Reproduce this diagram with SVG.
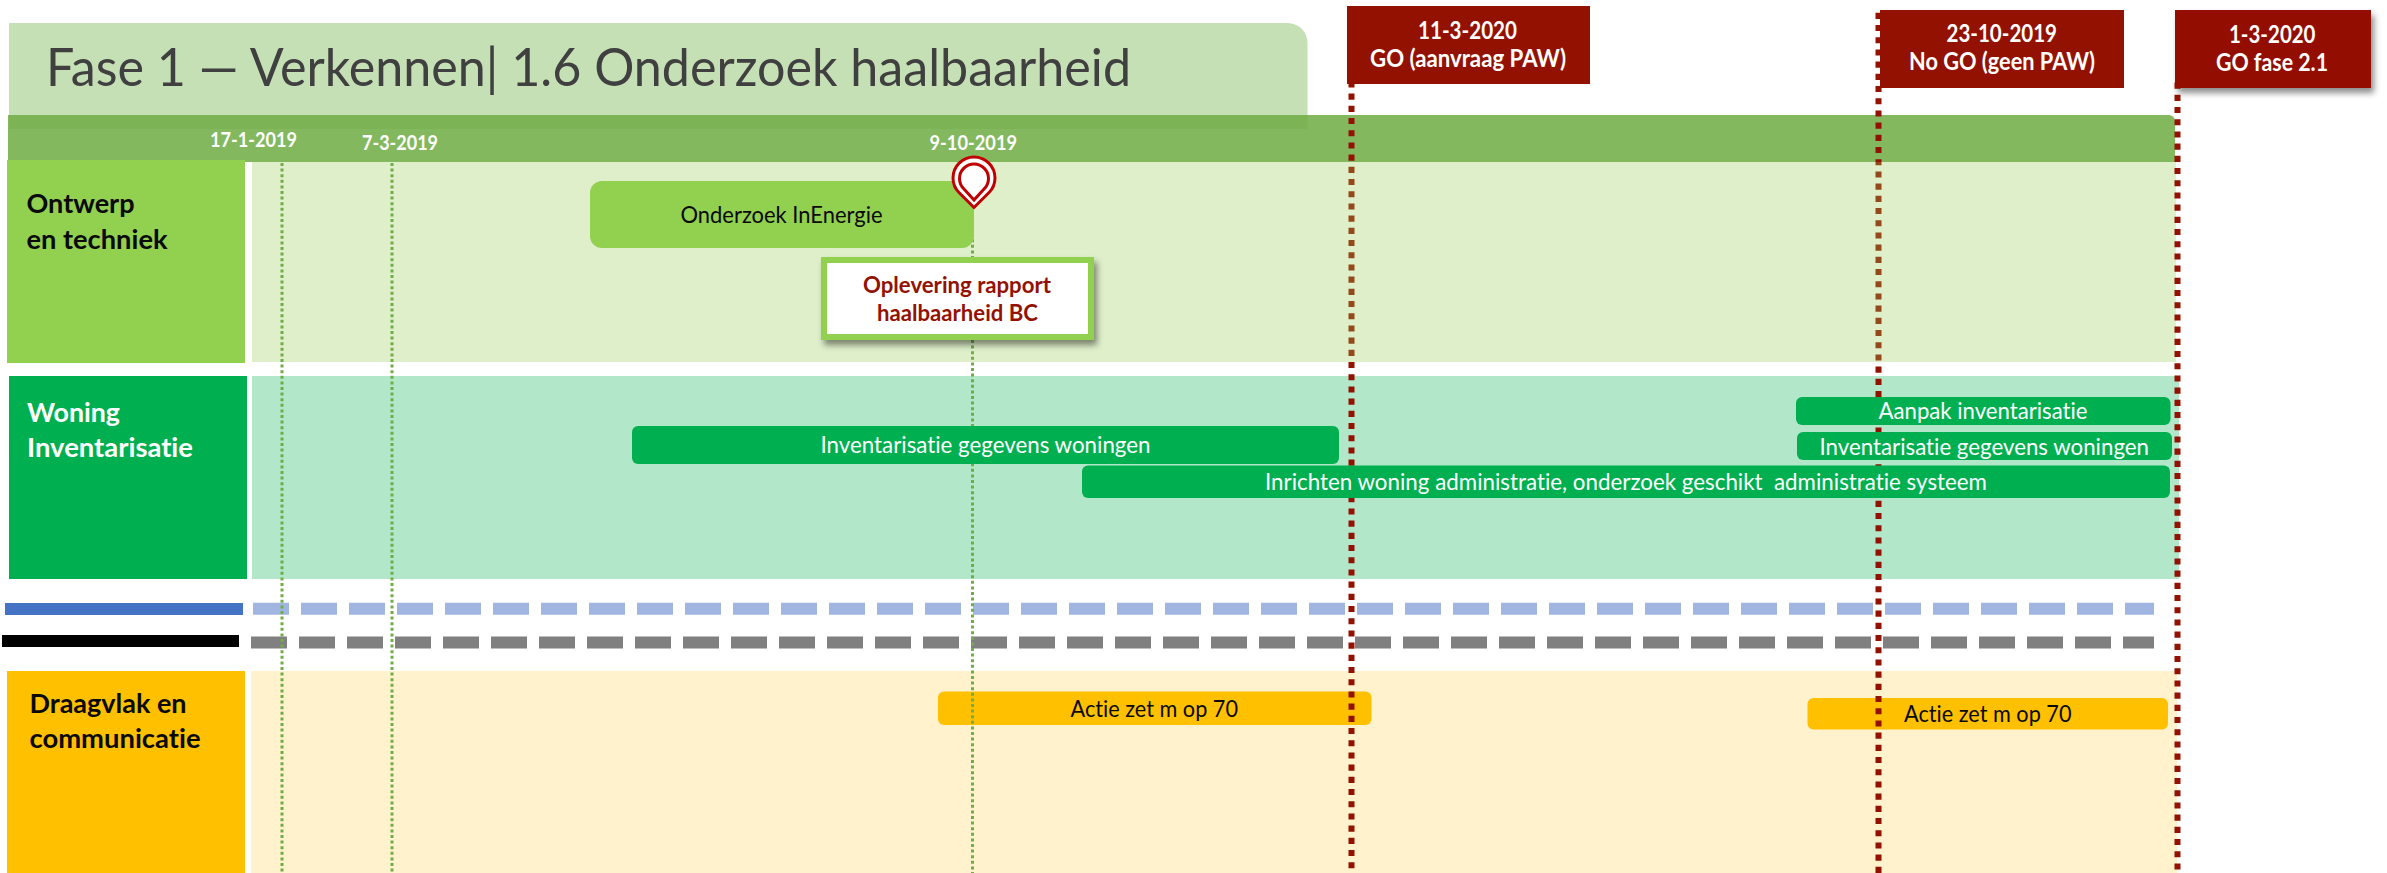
<svg xmlns="http://www.w3.org/2000/svg" width="2387" height="873" viewBox="0 0 2387 873">
<style>
text{font-family:Lato,"Open Sans","Liberation Sans",sans-serif;font-variant-ligatures:none;}
.lab{font-size:27px;font-weight:700;}
.date{font-size:20px;font-weight:700;fill:#fff;}
.box{font-size:24px;font-weight:700;fill:#fff;}
.bar{font-size:23px;}
.w{fill:#fff;}
.k{fill:#0a0a0a;}
.red{fill:#931100;}
.gd{stroke:#70ad47;stroke-width:3;stroke-dasharray:3 2.6;fill:none;}
.rd{stroke:url(#redfade);stroke-width:6;stroke-dasharray:6.1 6.1;fill:none;}
.rd3{stroke:#931100;stroke-width:6;stroke-dasharray:6.1 6.1;fill:none;}
</style>
<defs>
<linearGradient id="redfade" gradientUnits="userSpaceOnUse" x1="0" y1="0" x2="0" y2="873">
<stop offset="0.1856" stop-color="#931100"/><stop offset="0.1856" stop-color="#93491a"/>
<stop offset="0.4147" stop-color="#93491a"/><stop offset="0.4147" stop-color="#931100"/>
</linearGradient>
<filter id="sh" x="-10%" y="-10%" width="125%" height="135%"><feDropShadow dx="3" dy="5" stdDeviation="3" flood-color="#000" flood-opacity="0.45"/></filter>
</defs>
<rect width="2387" height="873" fill="#fff"/>

<g id="panels">
<rect x="252" y="162" width="1924" height="200" fill="#deefca"/>
<rect x="252" y="376" width="1927" height="203" fill="#b2e7ca"/>
<rect x="251" y="671" width="1926" height="202" fill="#fff2cc"/>
</g>

<g id="legend">
<rect x="5" y="603" width="238" height="12" fill="#4472c4"/>
<rect x="2" y="635" width="237" height="12" fill="#000"/>
<line x1="253" y1="608.7" x2="2154" y2="608.7" stroke="#a0b6e0" stroke-width="12" stroke-dasharray="36 12"/>
<line x1="251" y1="642.5" x2="2154" y2="642.5" stroke="#808080" stroke-width="12" stroke-dasharray="36 12"/>
</g>

<g id="title">
<path d="M9 23H1287.5a20 20 0 0 1 20 20V129H9Z" fill="#c5e0b4"/>
<text x="46" y="86" font-size="53" font-weight="400" fill="#404040" textLength="1085" lengthAdjust="spacingAndGlyphs">Fase 1 — Verkennen| 1.6 Onderzoek haalbaarheid</text>
</g>
<g id="timeline-band">
<path d="M8 115H2169a6 6 0 0 1 6 6V162H8Z" fill="#70ad47" fill-opacity="0.87"/>
<text class="date" x="210" y="147" textLength="87" lengthAdjust="spacingAndGlyphs">17-1-2019</text>
<text class="date" x="362" y="150" textLength="76" lengthAdjust="spacingAndGlyphs">7-3-2019</text>
<text class="date" x="929.5" y="150" textLength="87.5" lengthAdjust="spacingAndGlyphs">9-10-2019</text>
</g>

<g id="actie-1"><rect x="938" y="691.5" width="433.5" height="33.5" rx="6" fill="#ffc000"/><text class="bar k" x="1070.5" y="716.5" textLength="167.5" lengthAdjust="spacingAndGlyphs">Actie zet m op 70</text></g>
<g id="actie-2"><rect x="1807.5" y="698" width="360.5" height="31.5" rx="6" fill="#ffc000"/><text class="bar k" x="1904" y="721.5" textLength="167.5" lengthAdjust="spacingAndGlyphs">Actie zet m op 70</text></g>

<g id="connectors">
<line class="gd" x1="282" y1="163" x2="282" y2="873"/>
<line class="gd" x1="392" y1="163" x2="392" y2="873"/>
<line class="gd" x1="972.5" y1="200" x2="972.5" y2="873"/>
<line class="rd" x1="1351.5" y1="81.4" x2="1351.5" y2="873"/>
<line class="rd" x1="1878.5" y1="12.8" x2="1878.5" y2="873"/>
<line class="rd3" x1="2177.5" y1="82.6" x2="2177.5" y2="873"/>
</g>

<g id="lane-ontwerp"><rect x="7" y="160" width="238" height="203" fill="#92d050"/>
<text class="lab k" x="26.5" y="213" textLength="108" lengthAdjust="spacingAndGlyphs">Ontwerp</text>
<text class="lab k" x="26.5" y="249" textLength="141" lengthAdjust="spacingAndGlyphs">en techniek</text></g>
<g id="lane-woning"><rect x="9" y="376" width="238" height="203" fill="#00b050"/>
<text class="lab w" x="27" y="421.5" textLength="93" lengthAdjust="spacingAndGlyphs">Woning</text>
<text class="lab w" x="27" y="456.5" textLength="166" lengthAdjust="spacingAndGlyphs">Inventarisatie</text></g>
<g id="lane-draagvlak"><rect x="7" y="671" width="238" height="202" fill="#ffc000"/>
<text class="lab k" x="29.5" y="713" textLength="157" lengthAdjust="spacingAndGlyphs">Draagvlak en</text>
<text class="lab k" x="29.5" y="748" textLength="171" lengthAdjust="spacingAndGlyphs">communicatie</text></g>

<g id="onderzoek"><rect x="590" y="181" width="384" height="67" rx="12" fill="#92d050"/><text class="bar k" x="680.5" y="222.5" textLength="202" lengthAdjust="spacingAndGlyphs">Onderzoek InEnergie</text></g>
<g id="inventarisatie-1"><rect x="632" y="426" width="707" height="38" rx="6" fill="#00b050"/><text class="bar w" x="820.5" y="452.5" textLength="330" lengthAdjust="spacingAndGlyphs">Inventarisatie gegevens woningen</text></g>
<g id="inrichten"><rect x="1082" y="465.5" width="1088" height="32.5" rx="6" fill="#00b050"/><text class="bar w" x="1265" y="490" textLength="722" lengthAdjust="spacingAndGlyphs" xml:space="preserve">Inrichten woning administratie, onderzoek geschikt  administratie systeem</text></g>
<g id="aanpak"><rect x="1796" y="397" width="374.5" height="28" rx="6" fill="#00b050"/><text class="bar w" x="1878.5" y="419" textLength="209" lengthAdjust="spacingAndGlyphs">Aanpak inventarisatie</text></g>
<g id="inventarisatie-2"><rect x="1797" y="432" width="375" height="28" rx="6" fill="#00b050"/><text class="bar w" x="1819.5" y="455" textLength="329.5" lengthAdjust="spacingAndGlyphs">Inventarisatie gegevens woningen</text></g>

<g id="oplevering"><rect x="824" y="260" width="267" height="77" fill="#fff" stroke="#92d050" stroke-width="6" filter="url(#sh)"/>
<text class="bar red" font-weight="700" x="863" y="292.5" textLength="188" lengthAdjust="spacingAndGlyphs">Oplevering rapport</text>
<text class="bar red" font-weight="700" x="877" y="321" textLength="161" lengthAdjust="spacingAndGlyphs">haalbaarheid BC</text></g>

<g id="pin" fill="#fff" stroke="#c00000" stroke-width="3">
<path d="M974 207.5L959.2 192.8A21 21 0 1 1 988.8 192.8Z"/>
<path d="M974 200L964 189A14.5 14.5 0 1 1 984 189Z"/>
</g>

<g id="go-1"><rect x="1347" y="6" width="243" height="78" fill="#931100"/>
<text class="box" x="1418" y="38.5" textLength="99" lengthAdjust="spacingAndGlyphs">11-3-2020</text>
<text class="box" x="1370" y="66.5" textLength="196" lengthAdjust="spacingAndGlyphs">GO (aanvraag PAW)</text></g>
<g id="go-2"><rect x="1880" y="10" width="244" height="78" fill="#931100"/>
<text class="box" x="1946.5" y="41.5" textLength="110.5" lengthAdjust="spacingAndGlyphs">23-10-2019</text>
<text class="box" x="1909" y="69.5" textLength="186" lengthAdjust="spacingAndGlyphs">No GO (geen PAW)</text></g>
<g id="go-3"><rect x="2175" y="10" width="196" height="78" fill="#931100" filter="url(#sh)"/>
<text class="box" x="2229" y="42.5" textLength="86.5" lengthAdjust="spacingAndGlyphs">1-3-2020</text>
<text class="box" x="2216" y="70.5" textLength="112" lengthAdjust="spacingAndGlyphs">GO fase 2.1</text></g>
</svg>
